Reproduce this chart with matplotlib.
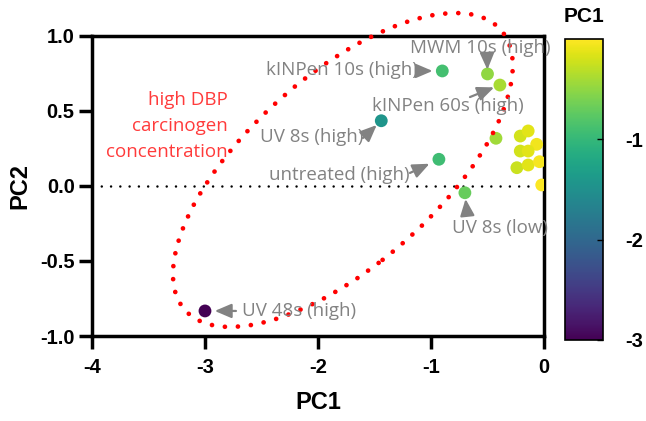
import matplotlib.pyplot as plt
from matplotlib.patches import Ellipse
import numpy as np

plt.rcParams['axes.unicode_minus'] = False

# PCA scores
pc1 = [-3.00, -1.44, -0.90, -0.93, -0.70, -0.50, -0.39, -0.425,
       -0.21, -0.14, -0.065, -0.21, -0.14, -0.24, -0.14, -0.04, -0.02]
pc2 = [-0.833, 0.435, 0.767, 0.178, -0.045, 0.747, 0.673, 0.318,
       0.333, 0.367, 0.278, 0.233, 0.233, 0.122, 0.14, 0.162, 0.007]

# labelled samples: index into pc1/pc2
labels = ['UV 48s (high)', 'UV 8s (high)', 'kINPen 10s (high)', 'untreated (high)',
          'UV 8s (low)', 'MWM 10s (high)', 'kINPen 60s (high)']
label_idx = [0, 1, 2, 3, 4, 5, 6]

# where the text sits and where its arrow starts (data coords)
text_pos = [(-2.673, -0.833), (-1.602, 0.327), (-1.115, 0.773), (-1.186, 0.073),
            (-0.39, -0.28), (-0.566, 0.92), (-0.854, 0.533)]
text_ha = ['left', 'right', 'right', 'right', 'center', 'center', 'center']
arrow_start = [(-2.726, -0.833), (-1.602, 0.32), (-1.115, 0.767), (-1.186, 0.087),
               (-0.681, -0.18), (-0.504, 0.873), (-0.655, 0.593)]
arrow_shrink = [7, 4.5, 7, 7.5, 4.5, 3, 4.5]

gray = '#828282'

fig = plt.figure(figsize=(6.46, 4.21), dpi=100)
ax = fig.add_axes([0.1424, 0.2019, 0.6997, 0.7126])
cax = fig.add_axes([0.8746, 0.1924, 0.0588, 0.715])

# dotted zero line
ax.axhline(0, color='black', lw=1.8, linestyle=(0, (0.01, 3.7)),
           dash_capstyle='round', zorder=1)

# red dotted ellipse
ell = Ellipse((-1.78, 0.107), width=3.39, height=1.39, angle=30.4,
              fill=False, edgecolor='red', lw=3.4, linestyle=(0, (0.01, 2.75)),
              clip_on=False, zorder=4)
ell.set_capstyle('round')
ax.add_patch(ell)

sc = ax.scatter(pc1, pc2, c=pc1, cmap='viridis', vmin=-3, vmax=0, s=85,
                linewidths=0, zorder=3)

for i, lab in enumerate(labels):
    k = label_idx[i]
    ax.text(text_pos[i][0], text_pos[i][1], lab, ha=text_ha[i], va='center',
            color=gray, fontsize=13.5, family='Open Sans', zorder=5)
    ax.annotate('', xy=(pc1[k], pc2[k]), xytext=arrow_start[i],
                arrowprops=dict(arrowstyle='-|>,head_length=0.75,head_width=0.32',
                                color=gray, lw=1.6, shrinkA=0,
                                shrinkB=arrow_shrink[i], mutation_scale=13.5),
                zorder=5)

ax.text(-2.796, 0.40, 'high DBP\ncarcinogen\nconcentration', ha='right',
        va='center', color='#ff3b3b', fontsize=13.5, family='Open Sans',
        linespacing=1.55)

ax.set_xlim(-4, 0)
ax.set_ylim(-1, 1)
ax.set_xticks([-4, -3, -2, -1, 0])
ax.set_yticks([-1.0, -0.5, 0.0, 0.5, 1.0])
ax.set_yticklabels(['-1.0', '-0.5', '0.0', '0.5', '1.0'])
ax.set_xticklabels(['-4', '-3', '-2', '-1', '0'])
for s in ax.spines.values():
    s.set_linewidth(2.5)
ax.tick_params(axis='both', width=2.5, length=9.5, labelsize=14.5)
ax.tick_params(axis='y', pad=3)
ax.tick_params(axis='x', pad=6.5)
for lb in ax.get_xticklabels() + ax.get_yticklabels():
    lb.set_fontweight('bold')
    lb.set_family('Liberation Sans')
ax.set_xlabel('PC1', fontsize=17, fontweight='bold', family='Liberation Sans', labelpad=10)
ax.set_ylabel('PC2', fontsize=17, fontweight='bold', family='Liberation Sans', labelpad=6)

cb = fig.colorbar(sc, cax=cax, ticks=[-1, -2, -3])
cb.outline.set_linewidth(1.2)
cax.tick_params(direction='in', length=4, width=1, pad=16, labelsize=14.5)
for lb in cax.get_yticklabels():
    lb.set_fontweight('bold')
    lb.set_family('Liberation Sans')
cax.set_title('PC1', fontsize=15, fontweight='bold', family='Liberation Sans', pad=12)

plt.savefig('out.png', dpi=100)
